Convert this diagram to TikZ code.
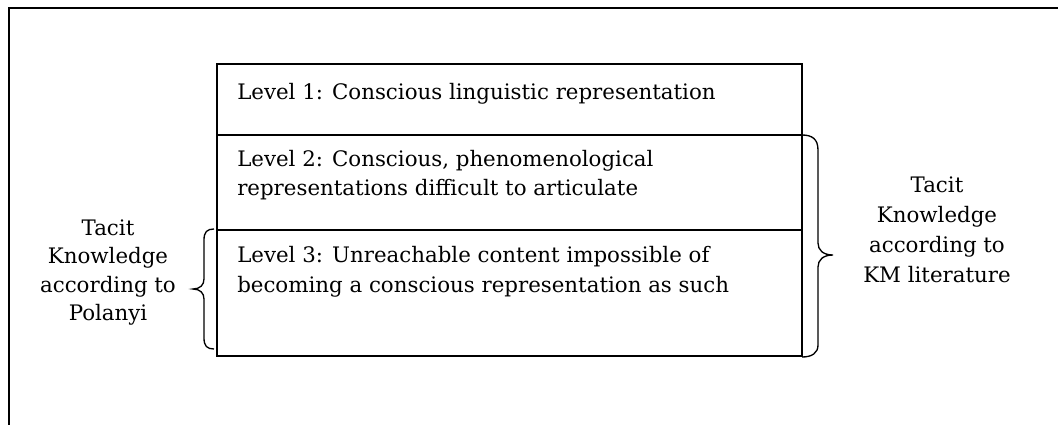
\documentclass[tikz,border=0pt]{standalone}
\usepackage{fontspec}
\setmainfont{DejaVu Serif}
\begin{document}
\begin{tikzpicture}[x=0.75pt,y=-0.75pt,
  txt/.style={inner sep=0pt, font=\fontsize{16}{22}\selectfont},
  lvlbox/.style={draw, line width=1pt, inner sep=0pt, minimum width=438.75pt},
  framepen/.style={line width=1.6pt},
  bracepen/.style={line width=1pt}]
\useasboundingbox (0,0) rectangle (1058,425);
% outer frame (top and left edges only visible)
\draw[framepen] (9,425) -- (9,8) -- (1058,8);
% level boxes
\node[lvlbox, minimum height=53.25pt] (lvl1) at (509.5,99.5) {};
\node[lvlbox, minimum height=71.25pt] (lvl2) at (509.5,182.5) {};
\node[lvlbox, minimum height=94.5pt] (lvl3) at (509.5,293) {};
% texts in boxes
\node[txt, anchor=base west] (t1) at (237,99) {Level 1: Conscious linguistic representation};
\node[txt, anchor=base west] (t2a) at (237,166) {Level 2: Conscious, phenomenological};
\node[txt, anchor=base west] (t2b) at (237,195) {representations difficult to articulate};
\node[txt, anchor=base west] (t3a) at (237,262) {Level 3: Unreachable content impossible of};
\node[txt, anchor=base west] (t3b) at (237,292) {becoming a conscious representation as such};
% left brace
\draw[bracepen] (214,229) .. controls (207,229) and (204,232) .. (204,240) -- (204,279)
  .. controls (204,285) and (200,289) .. (193,289)
  .. controls (200,289) and (204,293) .. (204,299) -- (204,338)
  .. controls (204,346) and (207,349) .. (214,349);
% right brace
\draw[bracepen] (802,135) .. controls (812,135) and (818,139) .. (818,150) -- (818,243)
  .. controls (818,250) and (823,255) .. (833,255)
  .. controls (823,255) and (818,260) .. (818,267) -- (818,345)
  .. controls (818,353) and (812,357) .. (802,357);
% side labels
\node[txt, anchor=base] (l1) at (108,235) {Tacit};
\node[txt, anchor=base] (l2) at (108,263) {Knowledge};
\node[txt, anchor=base] (l3) at (108,292) {according to};
\node[txt, anchor=base] (l4) at (108,320) {Polanyi};
\node[txt, anchor=base] (r1) at (937,192) {Tacit};
\node[txt, anchor=base] (r2) at (937,222) {Knowledge};
\node[txt, anchor=base] (r3) at (937,252) {according to};
\node[txt, anchor=base] (r4) at (937,282) {KM literature};
\end{tikzpicture}
\end{document}
